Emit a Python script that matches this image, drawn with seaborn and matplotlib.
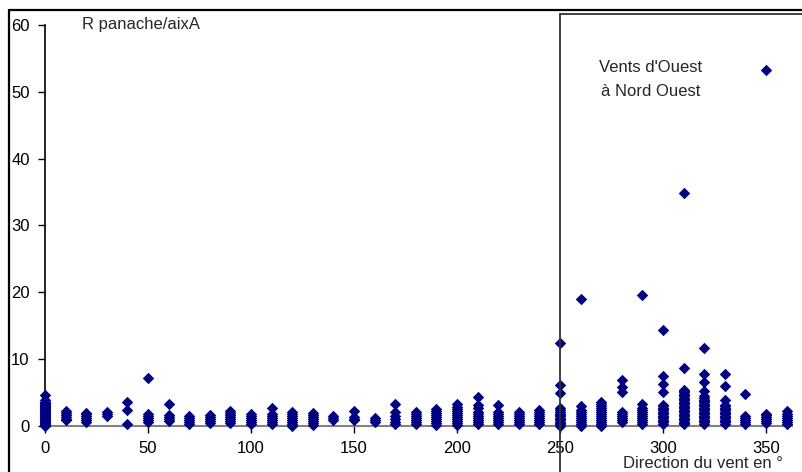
import matplotlib
matplotlib.use("Agg")
import matplotlib.pyplot as plt
from matplotlib.lines import Line2D
import seaborn as sns
import pandas as pd

# Wind direction (degrees) and the plume ratio read at each direction
directions = [0, 10, 20, 30, 40, 50, 60, 70, 80, 90, 100, 110, 120, 130, 140, 150, 160, 170, 180,
              190, 200, 210, 220, 230, 240, 250, 260, 270, 280, 290, 300, 310, 320, 330, 340, 350, 360]

ratios_north_east = [
    [0.0, 0.15, 0.3, 0.45, 0.6, 0.75, 0.9, 1.05, 1.2, 1.35, 1.5, 1.65, 1.8, 1.95, 2.1, 2.25, 2.4,
     2.55, 2.7, 2.85, 3.0, 3.15, 3.3, 3.45, 3.6, 3.85, 4.6],          # 0
    [0.8, 1.0, 1.3, 1.6, 1.9, 2.2],                                    # 10
    [0.5, 0.8, 1.1, 1.4, 1.7, 1.9],                                    # 20
    [1.5, 1.7, 2.1],                                                   # 30
    [0.3, 2.3, 3.6],                                                   # 40
    [0.5, 0.8, 1.1, 1.4, 1.8, 7.2],                                    # 50
    [0.7, 1.0, 1.3, 1.6, 3.3],                                         # 60
    [0.2, 0.5, 0.8, 1.1, 1.4],                                         # 70
    [0.4, 0.7, 1.0, 1.3, 1.6],                                         # 80
    [0.4, 0.7, 1.0, 1.3, 1.6, 1.9, 2.2],                               # 90
]
ratios_south_east = [
    [0.3, 0.6, 0.9, 1.2, 1.5, 1.7],                                    # 100
    [0.2, 0.5, 0.8, 1.1, 1.4, 1.8, 2.7],                               # 110
    [0.0, 0.3, 0.6, 0.9, 1.2, 1.5, 1.8, 2.0],                          # 120
    [0.1, 0.4, 0.7, 1.0, 1.3, 1.6, 1.9],                               # 130
    [0.8, 1.1, 1.4],                                                   # 140
    [0.8, 1.0, 1.3, 2.2],                                              # 150
    [0.6, 0.9, 1.2],                                                   # 160
    [0.3, 0.6, 1.0, 1.5, 2.0, 3.2],                                    # 170
    [0.2, 0.5, 0.8, 1.1, 1.4, 1.7, 2.0],                               # 180
]
ratios_south_west = [
    [0.1, 0.4, 0.7, 1.0, 1.3, 1.6, 1.9, 2.2, 2.5],                     # 190
    [0.1, 0.4, 0.7, 1.0, 1.3, 1.6, 1.9, 2.2, 2.5, 2.8, 3.3],           # 200
    [0.2, 0.5, 0.8, 1.1, 1.4, 1.7, 2.0, 2.6, 3.1, 4.3],                # 210
    [0.2, 0.5, 0.8, 1.1, 1.4, 1.7, 2.1, 3.1],                          # 220
    [0.3, 0.6, 0.9, 1.2, 1.5, 1.8, 2.0],                               # 230
    [0.3, 0.6, 0.9, 1.2, 1.5, 1.8, 2.1, 2.3],                          # 240
    [0.0, 0.2, 0.4, 0.6, 0.8, 1.0, 1.2, 1.4, 1.6, 1.8, 2.0, 2.3, 2.6,
     4.9, 6.1, 12.4],                                                  # 250
    [0.0, 0.3, 0.6, 0.9, 1.2, 1.5, 1.8, 2.1, 2.4, 3.0, 18.9],          # 260
    [0.0, 0.3, 0.6, 0.9, 1.2, 1.5, 1.8, 2.1, 2.4, 2.7, 3.0, 3.3, 3.6], # 270
]
ratios_north_west = [
    [0.5, 0.8, 1.1, 1.4, 1.7, 2.0, 5.0, 5.8, 6.9],                     # 280
    [0.2, 0.5, 0.8, 1.1, 1.4, 1.7, 2.0, 2.3, 2.7, 3.3, 19.5],          # 290
    [0.3, 0.5, 0.7, 0.9, 1.1, 1.3, 1.5, 1.7, 1.9, 2.1, 2.3, 2.5, 2.7,
     2.9, 3.1, 5.0, 6.3, 7.4, 14.4],                                   # 300
    [0.2, 0.4, 0.6, 0.8, 1.0, 1.2, 1.4, 1.6, 1.8, 2.0, 2.2, 2.4, 2.6,
     2.8, 3.0, 3.2, 3.4, 3.6, 3.8, 4.0, 4.2, 4.4, 4.6, 4.8, 5.0, 5.2,
     5.4, 8.7, 34.9],                                                  # 310
    [0.3, 0.5, 0.7, 0.9, 1.1, 1.3, 1.5, 1.7, 1.9, 2.1, 2.3, 2.5, 2.7,
     2.9, 3.1, 3.3, 3.5, 3.7, 3.9, 4.1, 4.4, 5.2, 6.5, 7.7, 11.7],     # 320
    [0.3, 0.5, 0.7, 0.9, 1.1, 1.3, 1.5, 1.7, 1.9, 2.1, 2.3, 2.5, 2.7,
     2.9, 3.1, 3.8, 6.0, 7.7],                                         # 330
    [0.3, 0.6, 0.9, 1.2, 1.5, 4.7],                                    # 340
    [0.4, 0.7, 1.0, 1.3, 1.6, 1.8, 53.2],                              # 350
    [0.3, 0.6, 0.9, 1.2, 1.5, 1.8, 2.2],                               # 360
]

y_ticks = [0, 10, 20, 30, 40, 50, 60]
x_ticks = [0, 50, 100, 150, 200, 250, 300, 350]
west_start = 250

# build long table
all_ratios = ratios_north_east + ratios_south_east + ratios_south_west + ratios_north_west
df = pd.DataFrame({"direction": directions, "ratio": all_ratios}).explode("ratio")
df["ratio"] = df["ratio"].astype(float)

sns.set_theme(style="white")
plt.rcParams["font.family"] = ["Liberation Sans", "DejaVu Sans"]
plt.rcParams["font.size"] = 12

W, H = 803, 472
fig = plt.figure(figsize=(W / 100, H / 100), dpi=100)
ax = fig.add_axes([45 / W, (H - 425.7) / H, (791.7 - 45) / W, (425.7 - 25) / H])

sns.scatterplot(data=df, x="direction", y="ratio", marker="D", color="#000080",
                s=34, linewidth=0, ax=ax, clip_on=False, zorder=3)

ax.set_xlim(0, 362.5)
ax.set_ylim(0, 60)
ax.set_xticks(x_ticks)
ax.set_yticks(y_ticks)
ax.set_xlabel("")
ax.set_ylabel("")
ax.tick_params(axis="both", labelsize=12, colors="black", length=5, width=1,
               direction="out", bottom=True, left=True, pad=6)
for side in ["top", "right"]:
    ax.spines[side].set_visible(False)
ax.spines["left"].set_color("black")
ax.spines["left"].set_linewidth(1.2)
ax.spines["bottom"].set_color("#808080")
ax.spines["bottom"].set_linewidth(1.5)

# west winds box (edges in pixel coords of the figure)
x_box = 45 + west_start * (791.7 - 45) / 362.5
fig.add_artist(Line2D([x_box / W, x_box / W], [0, (H - 14) / H], color="#333333", lw=1.3))
fig.add_artist(Line2D([x_box / W, 1], [(H - 14) / H, (H - 14) / H], color="#333333", lw=1.3))

# outer frame of the chart area
fig.add_artist(Line2D([8.5 / W, 1], [(H - 9.5) / H, (H - 9.5) / H], color="black", lw=1.6))
fig.add_artist(Line2D([8.5 / W, 8.5 / W], [0, (H - 9.5) / H], color="black", lw=1.6))

fig.text(82 / W, (H - 25) / H, "R panache/aixA", fontsize=12, va="center", ha="left")
fig.text(651 / W, (H - 67) / H, "Vents d'Ouest", fontsize=12, va="center", ha="center")
fig.text(651 / W, (H - 92) / H, "à Nord Ouest", fontsize=12, va="center", ha="center")
fig.text(623 / W, (H - 463) / H, "Direction du vent en °", fontsize=12, va="center", ha="left")

fig.savefig("out.png", dpi=100)
